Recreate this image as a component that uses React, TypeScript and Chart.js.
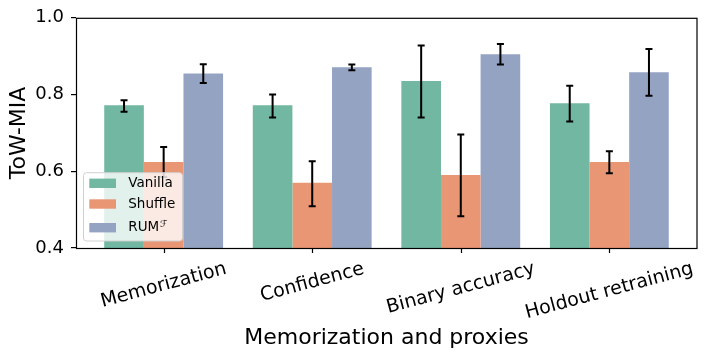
import React, { useEffect, useRef } from "react";
import { Chart, registerables } from "chart.js";

Chart.register(...registerables);

const categories = ["Memorization", "Confidence", "Binary accuracy", "Holdout retraining"];
const seriesNames = ["Vanilla", "Shuffle", "RUM"];
const seriesColors = ["rgb(113,183,161)", "rgb(233,150,117)", "rgb(149,163,195)"];

const vanillaMean = [0.772, 0.772, 0.835, 0.777];
const vanillaLow = [0.755, 0.74, 0.74, 0.73];
const vanillaHigh = [0.785, 0.8, 0.928, 0.823];

const shuffleMean = [0.624, 0.57, 0.59, 0.624];
const shuffleLow = [0.585, 0.509, 0.483, 0.595];
const shuffleHigh = [0.663, 0.626, 0.696, 0.652];

const rumMean = [0.855, 0.871, 0.905, 0.858];
const rumLow = [0.83, 0.863, 0.878, 0.797];
const rumHigh = [0.879, 0.878, 0.932, 0.919];

const yTicks = [0.4, 0.6, 0.8, 1.0];

const means = [vanillaMean, shuffleMean, rumMean];
const lows = [vanillaLow, shuffleLow, rumLow];
const highs = [vanillaHigh, shuffleHigh, rumHigh];

const FONT = "'DejaVu Sans', sans-serif";

const errorBarPlugin = {
  id: "errorBars",
  afterDatasetsDraw(chart: any) {
    const ctx = chart.ctx;
    const y = chart.scales.y;
    const xs = chart.scales.x;
    ctx.save();
    ctx.strokeStyle = "#000";
    ctx.lineWidth = 2;
    chart.data.datasets.forEach((_: any, di: number) => {
      const meta = chart.getDatasetMeta(di);
      meta.data.forEach((el: any, i: number) => {
        const x = el.x;
        const yl = y.getPixelForValue(lows[di][i]);
        const yh = y.getPixelForValue(highs[di][i]);
        ctx.beginPath();
        ctx.moveTo(x, yl);
        ctx.lineTo(x, yh);
        ctx.moveTo(x - 3.5, yl);
        ctx.lineTo(x + 3.5, yl);
        ctx.moveTo(x - 3.5, yh);
        ctx.lineTo(x + 3.5, yh);
        ctx.stroke();
      });
    });
    const a = chart.chartArea;
    ctx.lineWidth = 1.2;
    ctx.strokeRect(a.left + 0.5, a.top + 0.5, a.right - a.left - 0.5, a.bottom - a.top);
    // x tick marks
    ctx.beginPath();
    categories.forEach((_, i) => {
      const px = Math.round(xs.getPixelForValue(i)) + 0.5;
      ctx.moveTo(px, a.bottom);
      ctx.lineTo(px, a.bottom + 5);
    });
    ctx.stroke();
    ctx.restore();
  },
};

const textPlugin = {
  id: "texts",
  afterDraw(chart: any) {
    const ctx = chart.ctx;
    const a = chart.chartArea;
    const xs = chart.scales.x;
    ctx.save();
    ctx.fillStyle = "#000";
    const ang = (15 * Math.PI) / 180;
    ctx.font = `19px ${FONT}`;
    categories.forEach((c, i) => {
      const px = xs.getPixelForValue(i);
      const w = ctx.measureText(c).width;
      const H = 1.164 * 19;
      const cy = a.bottom + 10 + (w * Math.sin(ang) + H * Math.cos(ang)) / 2;
      ctx.save();
      ctx.translate(px, cy);
      ctx.rotate(-ang);
      ctx.textAlign = "center";
      ctx.textBaseline = "middle";
      ctx.fillText(c, 0, 0);
      ctx.restore();
    });
    ctx.font = `22px ${FONT}`;
    ctx.textAlign = "center";
    ctx.textBaseline = "alphabetic";
    ctx.fillText("Memorization and proxies", (a.left + a.right) / 2, 343.5);
    ctx.save();
    ctx.translate(25, (a.top + a.bottom) / 2);
    ctx.rotate(-Math.PI / 2);
    ctx.fillText("ToW-MIA", 0, 0);
    ctx.restore();

    const lx = 83.5, ly = 172.7, lw = 99, lh = 68.3, r = 3;
    ctx.beginPath();
    ctx.moveTo(lx + r, ly);
    ctx.lineTo(lx + lw - r, ly);
    ctx.arcTo(lx + lw, ly, lx + lw, ly + r, r);
    ctx.lineTo(lx + lw, ly + lh - r);
    ctx.arcTo(lx + lw, ly + lh, lx + lw - r, ly + lh, r);
    ctx.lineTo(lx + r, ly + lh);
    ctx.arcTo(lx, ly + lh, lx, ly + lh - r, r);
    ctx.lineTo(lx, ly + r);
    ctx.arcTo(lx, ly, lx + r, ly, r);
    ctx.closePath();
    ctx.fillStyle = "rgba(255,255,255,0.8)";
    ctx.fill();
    ctx.strokeStyle = "#d0d0d0";
    ctx.lineWidth = 1;
    ctx.stroke();

    const rowY = [183.3, 204, 227.7];
    seriesNames.forEach((n, i) => {
      ctx.fillStyle = seriesColors[i];
      ctx.fillRect(89.3, rowY[i] - 4.7, 26.7, 9.4);
      ctx.fillStyle = "#000";
      ctx.font = `13.5px ${FONT}`;
      ctx.textAlign = "left";
      ctx.textBaseline = "middle";
      ctx.fillText(n, 128.3, rowY[i]);
      if (i === 2) {
        const w = ctx.measureText(n).width;
        ctx.font = `9.5px ${FONT}`;
        ctx.textBaseline = "alphabetic";
        ctx.fillText("ℱ", 128.3 + w + 0.5, rowY[i] - 1);
      }
    });
    ctx.restore();
  },
};

export default function App() {
  const ref = useRef<HTMLCanvasElement>(null);
  useEffect(() => {
    document.body.style.margin = "0";
    const chart = new Chart(ref.current as HTMLCanvasElement, {
      type: "bar",
      data: {
        datasets: seriesNames.map((name, di) => ({
          label: name,
          data: means[di].map((v, i) => ({ x: i, y: v })),
          backgroundColor: seriesColors[di],
          borderWidth: 0,
          categoryPercentage: 0.8,
          barPercentage: 1.0,
        })),
      },
      options: {
        animation: false,
        responsive: false,
        devicePixelRatio: 1,
        layout: { padding: { top: 17, right: 9, left: 0, bottom: 0 } },
        plugins: { legend: { display: false }, tooltip: { enabled: false } },
        scales: {
          x: {
            type: "linear",
            min: -0.59,
            max: 3.59,
            offset: false,
            ticks: { display: false, stepSize: 1, includeBounds: false },
            grid: { display: false },
            border: { display: false },
            afterFit: (s: any) => {
              s.height = 110;
            },
          },
          y: {
            min: 0.4,
            max: 1.0,
            afterBuildTicks: (s: any) => {
              s.ticks = yTicks.map((v) => ({ value: v }));
            },
            ticks: {
              callback: (v: any) => Number(v).toFixed(1),
              font: { size: 18, family: FONT },
              color: "#000",
              padding: 7,
            },
            grid: { drawOnChartArea: false, drawTicks: true, tickLength: 5, color: "#000", lineWidth: 1.2 },
            border: { display: false },
            afterFit: (s: any) => {
              s.width = 76;
            },
          },
        },
      },
      plugins: [errorBarPlugin, textPlugin],
    } as any);
    return () => chart.destroy();
  }, []);
  return <canvas ref={ref} width={706} height={358} style={{ display: "block" }} />;
}
